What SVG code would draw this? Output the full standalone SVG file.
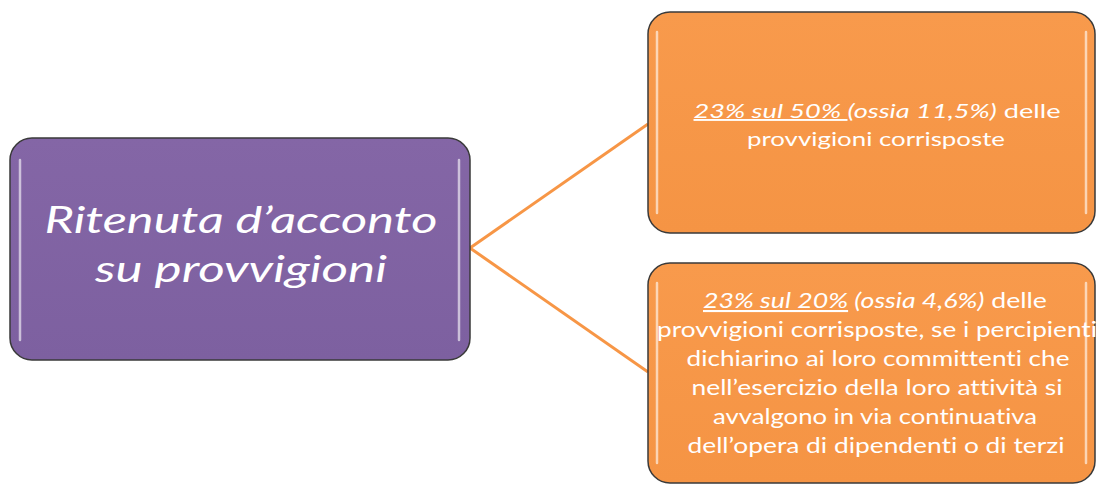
<svg xmlns="http://www.w3.org/2000/svg" width="1097" height="484" viewBox="0 0 1097 484">
<style>
.t{font-family:Lato,"Open Sans","Liberation Sans",sans-serif;fill:#ffffff;text-anchor:middle;font-variant-ligatures:none}
.box{stroke:#3a3a3a;stroke-width:1.5}
.hl{stroke:#ffffff;stroke-opacity:0.6;stroke-width:2.5;stroke-linecap:round;fill:none}
.conn{stroke:#f79646;stroke-width:3;fill:none}
</style>
<defs>
<linearGradient id="gp" x1="0" y1="0" x2="0" y2="1">
<stop offset="0" stop-color="#8466a6"/><stop offset="1" stop-color="#7d60a0"/>
</linearGradient>
<linearGradient id="go" x1="0" y1="0" x2="0" y2="1">
<stop offset="0" stop-color="#f89a4c"/><stop offset="1" stop-color="#f59444"/>
</linearGradient>
</defs>
<g id="connectors">
<line class="conn" x1="470" y1="248" x2="648" y2="124"/>
<line class="conn" x1="470" y1="248" x2="648" y2="372"/>
</g>
<g id="node-main">
<rect class="box" x="10" y="138" width="460" height="222" rx="22" fill="url(#gp)"/>
<line class="hl" x1="20" y1="160" x2="20" y2="340"/>
<line class="hl" x1="459" y1="160" x2="459" y2="340"/>
<text class="t" x="241" y="233" font-size="36" font-style="italic" textLength="393" lengthAdjust="spacingAndGlyphs">Ritenuta d’acconto</text>
<text class="t" x="241" y="282" font-size="36" font-style="italic" textLength="292" lengthAdjust="spacingAndGlyphs">su provvigioni</text>
</g>
<g id="node-top">
<rect class="box" x="648" y="12" width="447" height="221" rx="22" fill="url(#go)"/>
<line class="hl" x1="657" y1="32" x2="657" y2="213"/>
<line class="hl" x1="1086" y1="32" x2="1086" y2="213"/>
<text class="t" x="877" y="118" font-size="19" textLength="367" lengthAdjust="spacingAndGlyphs"><tspan font-style="italic" text-decoration="underline">23% sul 50% </tspan><tspan font-style="italic"> (ossia 11,5%)</tspan> delle</text>
<text class="t" x="876" y="146" font-size="19" textLength="258" lengthAdjust="spacingAndGlyphs">provvigioni corrisposte</text>
</g>
<g id="node-bottom">
<rect class="box" x="648" y="263" width="447" height="220" rx="22" fill="url(#go)"/>
<line class="hl" x1="657" y1="283" x2="657" y2="463"/>
<line class="hl" x1="1086" y1="283" x2="1086" y2="463"/>
<text class="t" x="875" y="308" font-size="21" textLength="344" lengthAdjust="spacingAndGlyphs"><tspan font-style="italic" text-decoration="underline">23% sul 20%</tspan><tspan font-style="italic"> (ossia 4,6%)</tspan> delle</text>
<text class="t" x="877" y="337" font-size="21" textLength="440" lengthAdjust="spacingAndGlyphs">provvigioni corrisposte, se i percipienti</text>
<text class="t" x="878" y="366" font-size="21" textLength="383" lengthAdjust="spacingAndGlyphs">dichiarino ai loro committenti che</text>
<text class="t" x="877" y="395" font-size="21" textLength="371" lengthAdjust="spacingAndGlyphs">nell’esercizio della loro attività si</text>
<text class="t" x="875" y="424" font-size="21" textLength="324" lengthAdjust="spacingAndGlyphs">avvalgono in via continuativa</text>
<text class="t" x="876" y="453" font-size="21" textLength="377" lengthAdjust="spacingAndGlyphs">dell’opera di dipendenti o di terzi</text>
</g>
</svg>
